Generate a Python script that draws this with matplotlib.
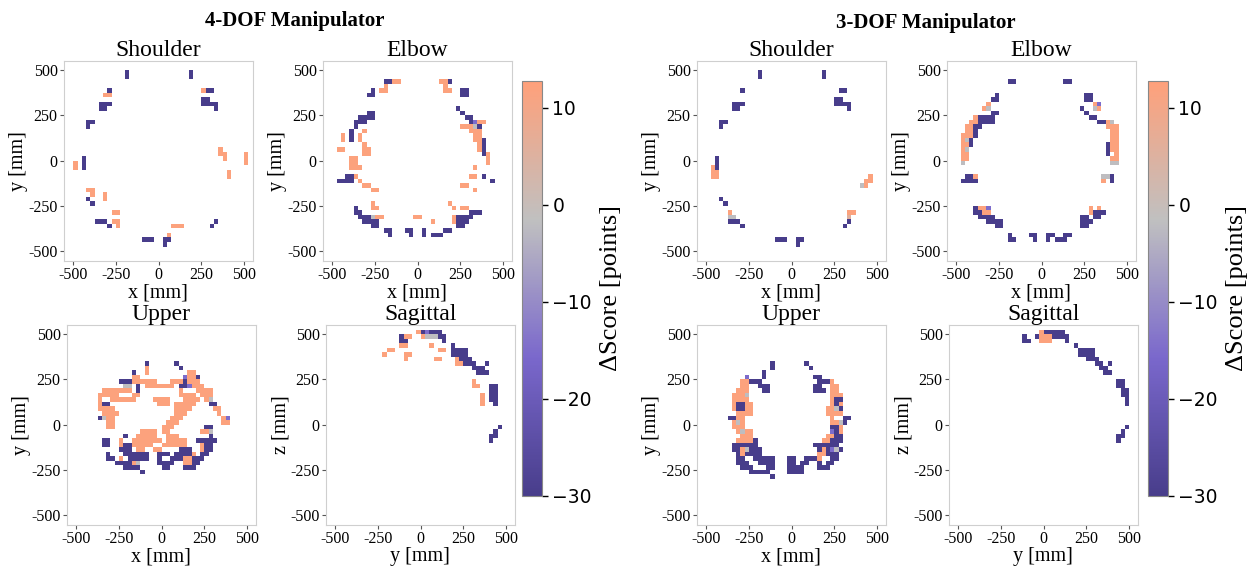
import numpy as np
import matplotlib
matplotlib.use('Agg')
import matplotlib.pyplot as plt
from matplotlib.colors import LinearSegmentedColormap

# cell rows: (y lower edge [mm], x left edge [mm], pattern); one char = one 25 mm cell
# o: +12 (gain), s: +6, g: ~0, p: -15, x: -30 (loss), '.': empty
shoulder_4dof = [
    (475, -200, "x"), (475, 175, "x"), (450, -200, "x"), (450, 175, "x"),
    (375, -300, "x"), (375, 250, "oxx"),
    (350, -325, "oo"),
    (325, 250, "xx"),
    (300, -350, "xxx"), (300, 250, "xxxx"),
    (275, -350, "xx"), (275, 325, "x"),
    (200, -425, "xx"), (175, -425, "x"),
    (50, 350, "o"),
    (25, 350, "oo"), (25, 500, "o"),
    (0, -450, "x"), (0, 375, "o"), (0, 500, "o"),
    (-25, -500, "o.x"), (-25, 500, "o"),
    (-50, -500, "o.x"),
    (-75, 400, "o"), (-100, 400, "o"),
    (-175, -425, "oo"),
    (-200, -400, "o..o"),
    (-225, -425, "x...o"),
    (-250, -400, "x"),
    (-300, -275, "oo"),
    (-350, -375, "xxx.oo"), (-350, 325, "x"),
    (-375, -300, "x.o"), (-375, 75, "ooo"), (-375, 300, "x"),
    (-425, 50, "o"),
    (-450, -100, "xxx"), (-450, 25, "xx"),
    (-475, 25, "x"),
]

elbow_4dof = [
    (425, -200, "xxoo"), (425, 125, "oox"),
    (400, -200, "o"), (400, 150, "o"),
    (375, -275, "x.oo"), (375, 150, "oo"), (375, 250, "xx"),
    (350, -300, "xx"), (350, 250, "xx"),
    (275, 225, "x"),
    (250, -300, "xx"), (250, 250, "x"),
    (225, -350, "xxxx"), (225, 275, "xx"),
    (200, -375, "xxx"), (200, 300, "xpoo"),
    (175, -375, "x"), (175, 250, "ooogx"),
    (150, -400, "x..o"), (150, 300, "ooo"),
    (125, -450, "o.x.o"), (125, 325, "oo"),
    (100, -450, "o.x.o"), (100, 325, "oox"),
    (75, -325, "o"), (75, 350, "ox"),
    (50, -475, "oo....oo"), (50, 350, "ox"),
    (25, -325, "oo"), (25, 375, "xo"),
    (0, -400, "oo"), (0, 400, "o"),
    (-25, -400, "oo"), (-25, 400, "o"),
    (-50, -400, "ooo"), (-50, 325, "o"),
    (-100, -425, "xxo"), (-100, 300, "oo.x"),
    (-125, -475, "xxxx.o"), (-125, 425, "x"),
    (-150, -325, "oo"), (-150, 250, "oo"),
    (-175, -275, "oo"), (-175, 325, "o"),
    (-250, -275, "o"), (-250, 175, "o"),
    (-275, -375, "x...oo"), (-275, 200, "o.oo"),
    (-300, -375, "xx"), (-300, 300, "xxx"),
    (-325, -350, "xxxgoo"), (-325, -25, "oo"), (-325, 200, "oxxxx"),
    (-350, -325, "xxxx"), (-350, 75, "o"), (-350, 200, "oxxx"),
    (-375, -275, "xx"), (-375, 225, "xx"),
    (-400, -200, "xx"), (-400, -75, "xx"), (-400, 25, "x"), (-400, 150, "xx"),
    (-425, -175, "x"), (-425, -50, "x"), (-425, 25, "x.xxx"),
]

upper_4dof = [
    (325, -375, "...........x......x............"),
    (300, -375, "...........o.......x..........."),
    (275, -375, "........x..o.........oo........"),
    (250, -375, "........oo..........poox......."),
    (225, -375, ".....xxxoooooo...oooxooo......."),
    (200, -375, "......gg.x.ooooooo.xxpooo......"),
    (175, -375, ".ooooooo.x.........o...oooo...."),
    (150, -375, "ooooo...oo.........oooo.ooo...."),
    (125, -375, "o..oooooo....oooo...oooo.og...."),
    (100, -375, "oxx...........ooo.ooooo...xx..."),
    (75, -375, "oooo..............oooo.....oo.."),
    (50, -375, ".oooo.............ooo.......o.."),
    (25, -375, "xgoo.............ooo.........op"),
    (0, -375, "..oo............ooo..........oo"),
    (-25, -375, "..oo...........ooo.......xx...."),
    (-50, -375, "..........oooo.oo.......oog...."),
    (-75, -375, "......x..ooooo..ooo.......x...."),
    (-100, -375, ".xx..o..ooooooo.ooooo..xxxxx..."),
    (-125, -375, ".xx..oxxooooo..oooooo...oxx...."),
    (-150, -375, ".....xxx.oo..oo....xxx..oxx...."),
    (-175, -375, "..x...xxxxxx..xxx.xxxxo.xx....."),
    (-200, -375, "..xx.o.xxxxx..x..xxxooxxx......"),
    (-225, -375, "....xxxxog....xxxx..ooxx......."),
    (-250, -375, "......xxxx.....xx...xxx........"),
    (-275, -375, "..........x...................."),
]

sagittal_4dof = [
    (500, -25, "oxpxxx"),
    (475, -125, "xoo"), (475, 0, "ogggxx"),
    (450, -125, "xx"), (450, 125, "x"),
    (425, -125, "oo"), (425, 50, "o"), (425, 175, "x"),
    (400, -200, "oo"), (400, 100, "oo"), (400, 175, "xxxx"),
    (375, -225, "o"), (375, -100, "oo"), (375, 175, "xxxx"),
    (350, -100, "o"), (350, 75, "oo"), (350, 200, "oxxx"),
    (325, 200, "ooxxx"), (325, 375, "x"),
    (300, 300, "xxx"),
    (275, 325, "xxx"),
    (225, 300, "o"),
    (200, 300, "oo"), (200, 400, "xx"),
    (175, 400, "xx"),
    (150, 350, "o.xx"),
    (125, 350, "o.xx"),
    (100, 350, "o..x"),
    (-25, 450, "x"),
    (-50, 425, "x"),
    (-75, 400, "xx"),
    (-100, 400, "x"),
]

shoulder_3dof = [
    (475, -200, "x"), (475, 175, "x"), (450, -200, "x"), (450, 175, "x"),
    (375, -300, "x"), (375, 275, "xx"),
    (325, 250, "xx"),
    (300, -350, "xxx"), (300, 250, "xxxx"),
    (275, -350, "xx"), (275, 325, "x"),
    (200, -425, "xx"), (175, -425, "x"),
    (0, -450, "x"), (-25, -450, "x"), (-50, -475, "ox"),
    (-75, -475, "oo"), (-100, -475, "oo"), (-100, 450, "o"),
    (-125, 425, "oo"), (-150, 400, "go"),
    (-225, -425, "x"), (-250, -400, "x"),
    (-300, -375, "o"), (-300, 325, "oo"),
    (-325, -375, "gg"), (-325, 325, "s"),
    (-350, -375, "xxx"), (-350, 325, "x"),
    (-375, -300, "x"), (-375, 300, "x"),
    (-450, -100, "xxx"), (-450, 25, "xx"), (-475, 25, "x"),
]

elbow_3dof = [
    (425, -200, "xx"), (425, 125, "xx"),
    (350, -275, "x"), (350, 250, "xx"),
    (325, -300, "xx"), (325, 250, "xx"),
    (300, -325, "o"), (300, 300, "op"),
    (275, -350, "og"), (275, 225, "x..go"),
    (250, -300, "xx"), (250, 250, "x"),
    (225, -400, "oxxxx"), (225, 275, "xx"),
    (200, -425, "ooxxxx"), (200, 325, "xxog"),
    (175, -450, "ooxx"), (175, 375, "ooo"),
    (150, -450, "oox"), (150, 400, "oo"),
    (125, -475, "ooox"), (125, 400, "oo"),
    (100, -475, "ogx"), (100, 400, "oo"),
    (75, -475, "oox"), (75, 375, "xoo"),
    (50, -475, "og"), (50, 375, "xoo"),
    (25, -475, "oo"), (25, 375, "x.o"),
    (0, -475, "oo"), (0, 400, "oo"),
    (-25, -475, "g"), (-25, 400, "gg"),
    (-100, -450, "xxo"), (-100, 350, "ggx"),
    (-125, -475, "xxxx"), (-125, 350, "o.x"),
    (-275, -400, "xoop"), (-275, 275, "o.o"),
    (-300, -400, "xxoo"), (-300, 275, "oxxx"),
    (-325, -375, "xxxx"), (-325, 225, "xx.xx"),
    (-350, -325, "xxxx"), (-350, 225, "xxx"),
    (-375, -275, "xx"), (-375, 225, "xx"),
    (-425, -200, "x"), (-425, -75, "xx"), (-425, 25, "xx"), (-425, 125, "xx"),
    (-450, -200, "xx"), (-450, -50, "x"), (-450, 25, "x.xxx"),
]

upper_3dof = [
    (325, -375, "..........x.......x............"),
    (300, -375, "..........x........x..........."),
    (275, -375, "........x......................"),
    (250, -375, "....p...x...........xx........."),
    (225, -375, "...ooxxx.............xxxo......"),
    (200, -375, "...oo..xxx..........xx..oo....."),
    (175, -375, "..ooo...xx..........xxx.oo....."),
    (150, -375, ".ooog...................ooo...."),
    (125, -375, ".oooo...................oxx...."),
    (100, -375, ".oxxoo..................oxo...."),
    (75, -375, ".oxxoo.................oogx...."),
    (50, -375, "..oooo.................oooo...."),
    (25, -375, "xxoo....................o..xx.."),
    (0, -375, ".ogo....................oogx..."),
    (-25, -375, ".ooo....................xxo...."),
    (-50, -375, "..ogoo..................pxo...."),
    (-75, -375, "...ooo.................ooxx...."),
    (-100, -375, "..oooox...............ooxxx...."),
    (-125, -375, ".xxxxxx.............xxxxxx....."),
    (-150, -375, ".xxogxxx.............xoxpgx...."),
    (-175, -375, "..xoxxxx.............ooxxx....."),
    (-200, -375, "..xx..xxxxx...xx..xxxo..xx....."),
    (-225, -375, "..xxx..xxxx...xx.xx..x.xx......"),
    (-250, -375, "...xxx...xx...xxxx...xxx......."),
    (-275, -375, ".....xxxxx....xxxx............."),
    (-300, -375, "..........x...................."),
]

sagittal_3dof = [
    (500, -25, "oxxxxx"),
    (475, -125, "x..xoooxxxx"),
    (450, -125, "xx..ooo...x"),
    (425, 175, "x"),
    (400, 200, "xxxx"),
    (375, 200, "xxxx"),
    (350, 250, "xxx"),
    (325, 300, "xx.x"),
    (300, 325, "xx"),
    (275, 350, "xx"),
    (225, 425, "xx"),
    (200, 425, "xx"),
    (175, 450, "xx"),
    (150, 450, "xx"),
    (125, 475, "x"),
    (100, 475, "x"),
    (-25, 475, "x"),
    (-50, 450, "x"),
    (-75, 425, "xx"),
    (-100, 425, "x"),
]

cell_values = {'o': 12.0, 's': 6.0, 'g': -2.0, 'p': -15.0, 'x': -30.0}
ticks = [-500, -250, 0, 250, 500]
cbar_ticks = [10, 0, -10, -20, -30]
vmin, vmax = -30, 12.75

plt.rcParams['font.family'] = 'serif'
plt.rcParams['font.serif'] = ['Liberation Serif', 'DejaVu Serif']
plt.rcParams['axes.unicode_minus'] = False

cmap = LinearSegmentedColormap.from_list(
    'dscore', ['#483d8b', '#7a68cc', '#c0c0c0', '#ffa07a'])

edges = np.arange(-550, 551, 25)
n = len(edges) - 1


def to_grid(rows):
    grid = np.full((n, n), np.nan)
    for y0, x0, pattern in rows:
        r = (y0 + 550) // 25
        c0 = (x0 + 550) // 25
        for k, ch in enumerate(pattern):
            if ch in cell_values:
                grid[r, c0 + k] = cell_values[ch]
    return grid


def draw_panel(ax, rows, title, xlabel, ylabel):
    grid = np.ma.masked_invalid(to_grid(rows))
    mesh = ax.pcolormesh(edges, edges, grid, cmap=cmap, vmin=vmin, vmax=vmax)
    ax.set_xlim(-555, 550)
    ax.set_ylim(-555, 550)
    ax.set_xticks(ticks)
    ax.set_yticks(ticks)
    ax.tick_params(labelsize=11.5, length=3, color='#555555', pad=1.5)
    for s in ax.spines.values():
        s.set_color('#cfcfcf')
    ax.set_title(title, fontsize=17, pad=2)
    ax.set_xlabel(xlabel, fontsize=14.5, labelpad=0)
    ax.set_ylabel(ylabel, fontsize=14.5, labelpad=0)
    return mesh


fig = plt.figure(figsize=(12.49, 5.68), dpi=100)
w, h = 0.151, 0.352
top, bot = 0.5405, 0.0757
panels = [
    ([0.0512, top], shoulder_4dof, 'Shoulder', 'x [mm]', 'y [mm]'),
    ([0.2586, top], elbow_4dof, 'Elbow', 'x [mm]', 'y [mm]'),
    ([0.0536, bot], upper_4dof, 'Upper', 'x [mm]', 'y [mm]'),
    ([0.2610, bot], sagittal_4dof, 'Sagittal', 'y [mm]', 'z [mm]'),
    ([0.5580, top], shoulder_3dof, 'Shoulder', 'x [mm]', 'y [mm]'),
    ([0.7582, top], elbow_3dof, 'Elbow', 'x [mm]', 'y [mm]'),
    ([0.5580, bot], upper_3dof, 'Upper', 'x [mm]', 'y [mm]'),
    ([0.7598, bot], sagittal_3dof, 'Sagittal', 'y [mm]', 'z [mm]'),
]
for (x, y), rows, title, xl, yl in panels:
    ax = fig.add_axes([x, y, w, h])
    mesh = draw_panel(ax, rows, title, xl, yl)

for cx in [0.418, 0.9191]:
    cax = fig.add_axes([cx, 0.1268, 0.016, 0.7306])
    cb = fig.colorbar(mesh, cax=cax, ticks=cbar_ticks)
    cb.outline.set_edgecolor('#888888')
    cb.ax.set_yticklabels([str(t).replace('-', '\u2212') for t in cbar_ticks],
                          fontfamily='DejaVu Sans', fontsize=13.5)
    cb.ax.tick_params(length=4, width=1)
    cb.set_label('\u0394Score [points]', fontsize=19, labelpad=6)

fig.text(0.236, 0.963, '4-DOF Manipulator', ha='center', va='center',
         fontsize=15, fontweight='bold')
fig.text(0.741, 0.960, '3-DOF Manipulator', ha='center', va='center',
         fontsize=15, fontweight='bold')

plt.savefig('out.png', dpi=100)
